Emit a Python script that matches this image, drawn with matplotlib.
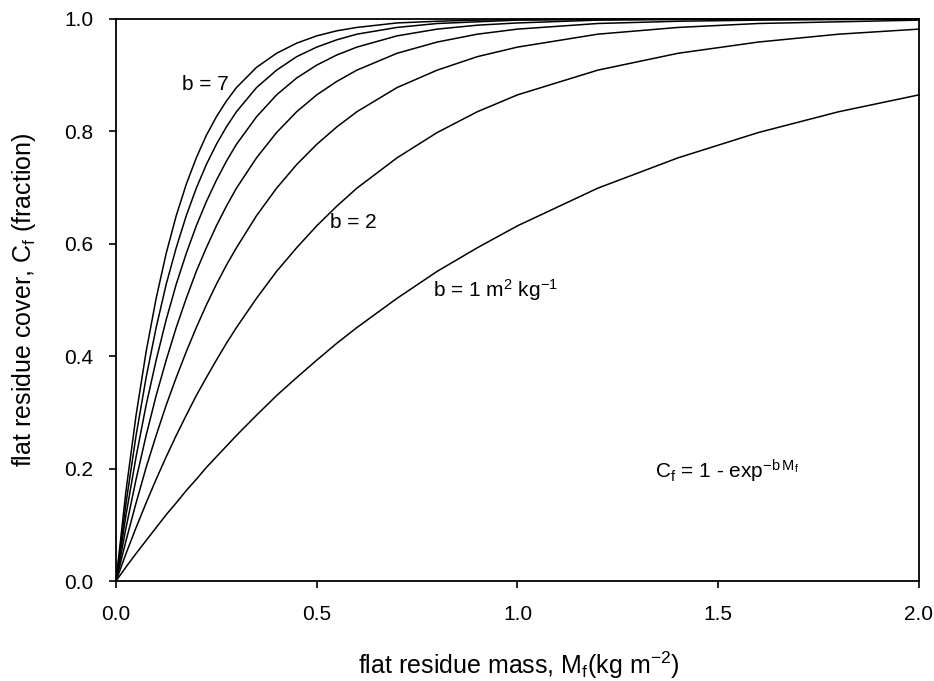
import matplotlib
matplotlib.use("Agg")
import matplotlib.pyplot as plt

plt.rcParams["font.family"] = ["Liberation Sans", "DejaVu Sans"]
plt.rcParams["mathtext.default"] = "regular"

# flat residue mass (kg m-2) at which the curves are read
mass = [0, 0.025, 0.05, 0.075, 0.1, 0.125, 0.15, 0.175, 0.2, 0.225, 0.25, 0.275,
        0.3, 0.35, 0.4, 0.45, 0.5, 0.55, 0.6, 0.7, 0.8, 0.9, 1.0, 1.2, 1.4,
        1.6, 1.8, 2.0]

# cover fraction (b = 1 ... 7)
cover_b1 = [0, .025, .049, .072, .095, .118, .139, .161, .181, .202, .221, .240,
            .259, .295, .330, .362, .393, .423, .451, .503, .551, .593, .632,
            .699, .753, .798, .835, .865]
cover_b2 = [0, .049, .095, .139, .181, .221, .259, .295, .330, .362, .393, .423,
            .451, .503, .551, .593, .632, .667, .699, .753, .798, .835, .865,
            .909, .939, .959, .973, .982]
cover_b3 = [0, .072, .139, .202, .259, .313, .362, .408, .451, .491, .528, .562,
            .593, .650, .699, .741, .777, .808, .835, .878, .909, .933, .950,
            .973, .985, .992, .995, .998]
cover_b4 = [0, .095, .181, .259, .330, .393, .451, .503, .551, .593, .632, .667,
            .699, .753, .798, .835, .865, .889, .909, .939, .959, .973, .982,
            .992, .996, .998, .999, 1.0]
cover_b5 = [0, .118, .221, .313, .393, .465, .528, .583, .632, .675, .713, .747,
            .777, .826, .865, .895, .918, .936, .950, .970, .982, .989, .993,
            .998, .999, 1.0, 1.0, 1.0]
cover_b6 = [0, .139, .259, .362, .451, .528, .593, .650, .699, .741, .777, .808,
            .835, .878, .909, .933, .950, .963, .973, .985, .992, .995, .998,
            .999, 1.0, 1.0, 1.0, 1.0]
cover_b7 = [0, .161, .295, .408, .503, .583, .650, .706, .753, .793, .826, .854,
            .878, .914, .939, .957, .970, .979, .985, .993, .996, .998, .999,
            1.0, 1.0, 1.0, 1.0, 1.0]
curves = [cover_b1, cover_b2, cover_b3, cover_b4, cover_b5, cover_b6, cover_b7]

fig = plt.figure(figsize=(9.34, 6.81), dpi=100)
ax = fig.add_axes([0.1242, 0.1468, 0.8597, 0.8253])

for c in curves:
    ax.plot(mass, c, color="black", lw=1.1, solid_joinstyle="round", clip_on=False)

ax.set_xlim(0, 2.0)
ax.set_ylim(0, 1.0)
ax.set_xticks([0, 0.5, 1.0, 1.5, 2.0])
ax.set_xticklabels(["0.0", "0.5", "1.0", "1.5", "2.0"])
ax.set_yticks([0, 0.2, 0.4, 0.6, 0.8, 1.0])
ax.set_yticklabels(["0.0", "0.2", "0.4", "0.6", "0.8", "1.0"])
ax.tick_params(direction="out", length=5, width=1.2, labelsize=15, colors="black")
ax.tick_params(axis="x", pad=12)
ax.tick_params(axis="y", pad=11.5)
for s in ax.spines.values():
    s.set_linewidth(1.3)

ax.set_xlabel("flat residue mass, M$_f$(kg m$^{-2}$)", fontsize=18, va="center")
ax.set_ylabel("flat residue cover, C$_f$ (fraction)", fontsize=18, va="center")
ax.xaxis.set_label_coords(0.502, -0.1495)
ax.yaxis.set_label_coords(-0.1146, 0.50)

ax.text(0.1644, 0.874, "b = 7", fontsize=15, ha="left", va="baseline")
ax.text(0.533, 0.628, "b = 2", fontsize=15, ha="left", va="baseline")
ax.text(0.7895, 0.505, "b = 1 m$^2$ kg$^{-1}$", fontsize=15, ha="left", va="baseline")
ax.text(1.3425, 0.183, "C$_f$ = 1 - exp$^{-b\\,M_f}$", fontsize=15, ha="left", va="baseline")

fig.savefig("out.png", dpi=100)
